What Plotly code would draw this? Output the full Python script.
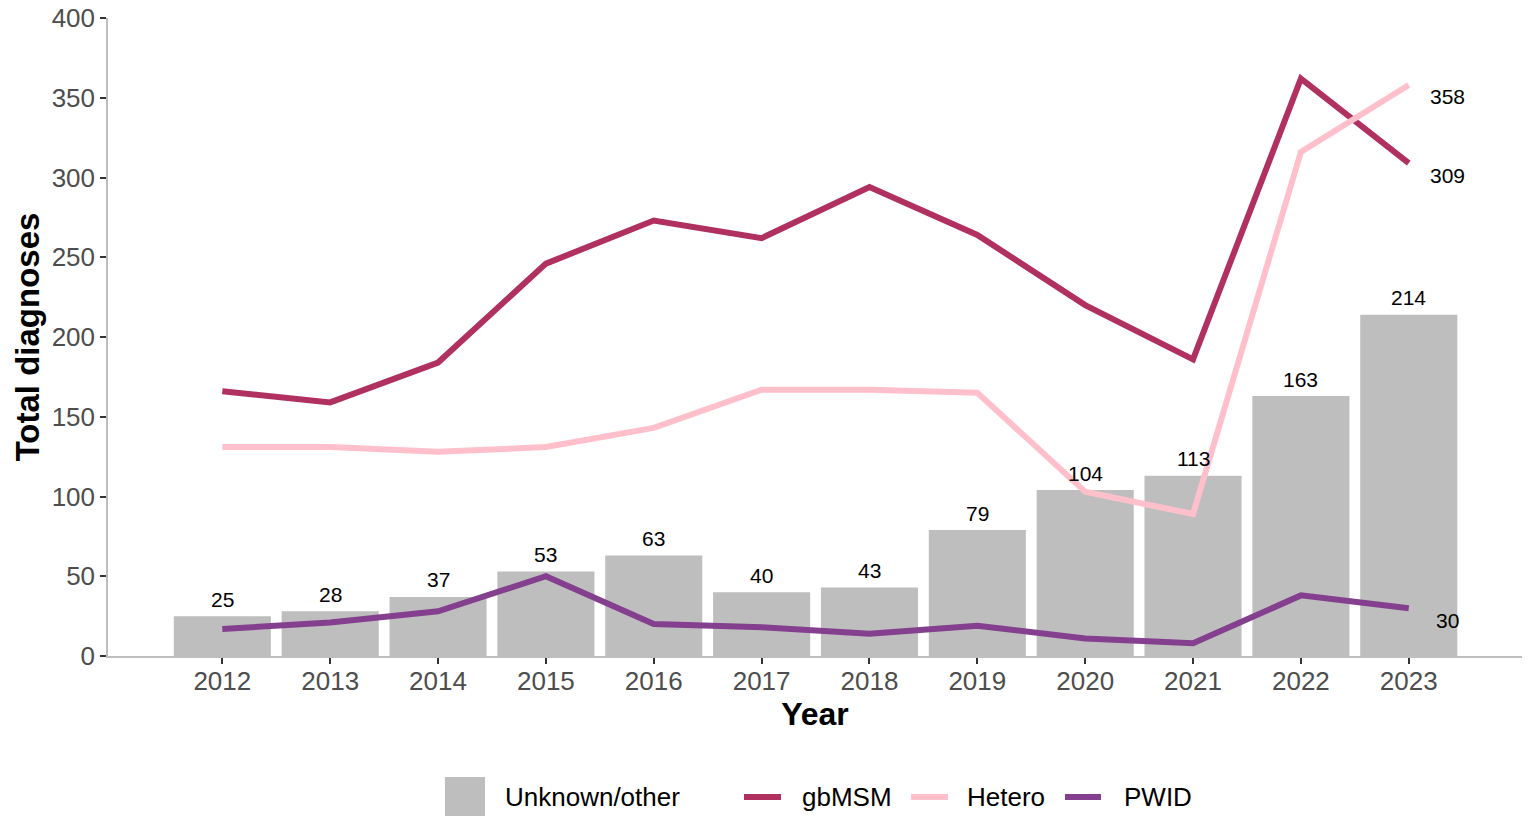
import plotly.graph_objects as go

years = [2012, 2013, 2014, 2015, 2016, 2017, 2018, 2019, 2020, 2021, 2022, 2023]
unknown_other = [25, 28, 37, 53, 63, 40, 43, 79, 104, 113, 163, 214]
gbmsm = [166, 159, 184, 246, 273, 262, 294, 264, 220, 186, 362, 309]
hetero = [131, 131, 128, 131, 143, 167, 167, 165, 103, 89, 316, 358]
pwid = [17, 21, 28, 50, 20, 18, 14, 19, 11, 8, 38, 30]

line_series = [("gbMSM", gbmsm, "#B03060"),
               ("Hetero", hetero, "#FFC0CB"),
               ("PWID", pwid, "#843F8F")]
bar_colour = "#BEBEBE"
FONT = "Liberation Sans, Arial"

fig = go.Figure()

fig.add_trace(go.Bar(x=years, y=unknown_other, name="Unknown/other",
                     marker=dict(color=bar_colour, line=dict(width=0)), width=0.9))

for name, vals, col in line_series:
    fig.add_trace(go.Scatter(x=years, y=vals, name=name, mode="lines",
                             line=dict(color=col, width=6)))

# labels above bars
for x, v in zip(years, unknown_other):
    fig.add_annotation(x=x, y=v, text=str(v), showarrow=False, yshift=17,
                       font=dict(size=21, color="black", family=FONT))

# end labels for the lines
for name, vals, col in line_series:
    fig.add_annotation(x=years[-1], y=vals[-1], text=str(vals[-1]), showarrow=False,
                       xshift=39, yshift=-12,
                       font=dict(size=21, color="black", family=FONT))

# legend drawn by hand so the keys match the original size
# plot area on the page: x 108..1522 px, y 18..656 px
def px(x):
    return (x - 108) / 1414

def py(y):
    return (656 - y) / 638

leg_y = 797
fig.add_shape(type="rect", xref="paper", yref="paper",
              x0=px(445), x1=px(485), y0=py(777), y1=py(816),
              fillcolor=bar_colour, line=dict(width=0))
fig.add_annotation(xref="paper", yref="paper", x=px(503), y=py(leg_y),
                   xanchor="left", yanchor="middle", showarrow=False,
                   text="Unknown/other", font=dict(size=26, color="black", family=FONT))
key_x = [(744, 781, 800), (911, 948, 965), (1065, 1101, 1122)]
for (name, vals, col), (k0, k1, tx) in zip(line_series, key_x):
    fig.add_shape(type="line", xref="paper", yref="paper",
                  x0=px(k0), x1=px(k1), y0=py(leg_y), y1=py(leg_y),
                  line=dict(color=col, width=6))
    fig.add_annotation(xref="paper", yref="paper", x=px(tx), y=py(leg_y),
                       xanchor="left", yanchor="middle", showarrow=False,
                       text=name, font=dict(size=26, color="black", family=FONT))

fig.update_layout(
    width=1529, height=816,
    paper_bgcolor="white", plot_bgcolor="white",
    margin=dict(l=108, r=7, t=18, b=160, autoexpand=False),
    font=dict(family=FONT, color="#4D4D4D"),
    showlegend=False,
)
fig.update_xaxes(range=[2010.94, 2024.05], tickmode="array", tickvals=years,
                 ticktext=[str(y) for y in years], automargin=False,
                 showline=True, linecolor="#BEBEBE", linewidth=1.5,
                 ticks="outside", ticklen=6, tickcolor="#333333", tickwidth=1.5,
                 tickfont=dict(size=26, color="#4D4D4D"), ticklabelstandoff=-5,
                 showgrid=False, zeroline=False,
                 title=dict(text="<b>Year</b>", font=dict(size=32, color="black"), standoff=2))
fig.update_yaxes(range=[0, 400], tickvals=[0, 50, 100, 150, 200, 250, 300, 350, 400],
                 automargin=False,
                 showline=True, linecolor="#BEBEBE", linewidth=1.5,
                 ticks="outside", ticklen=6, tickcolor="#333333", tickwidth=1.5,
                 tickfont=dict(size=26, color="#4D4D4D"),
                 showgrid=False, zeroline=False,
                 title=dict(text="<b>Total diagnoses</b>", font=dict(size=33, color="black"), standoff=2))

# drop the default 8px body margin so the figure sits at the page corner
fig.write_html("out.html", config={"displayModeBar": False},
               post_script="document.body.style.margin='0';")
